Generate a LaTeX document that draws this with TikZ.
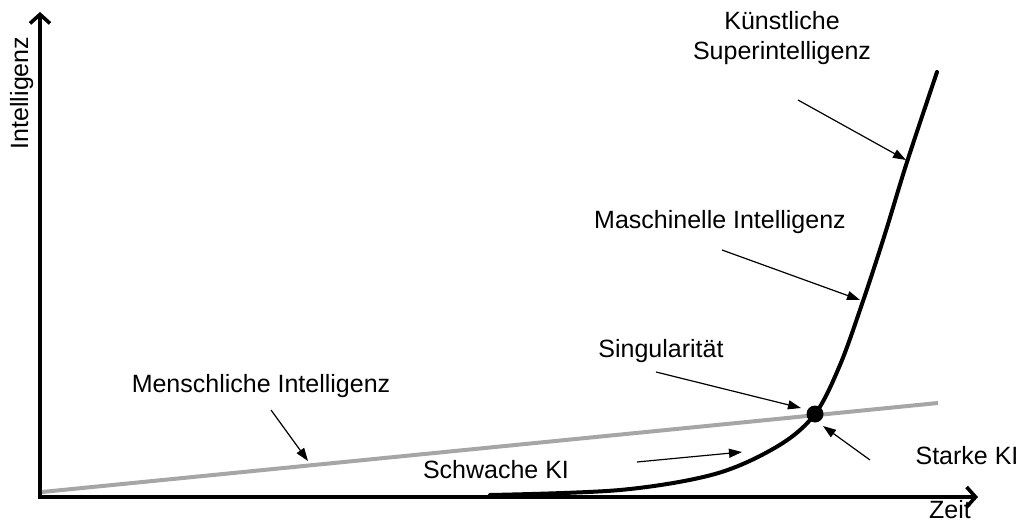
\documentclass[tikz,border=0pt]{standalone}
\usepackage{fontspec}
\setmainfont{Liberation Sans}
\usetikzlibrary{arrows.meta}
\begin{document}
\begin{tikzpicture}[x=1pt,y=-1pt,
  lbl/.style={font=\fontsize{25}{30}\selectfont, inner sep=0pt, anchor=base},
  axisline/.style={line width=3.6pt, -{Straight Barb[length=9pt,width=20pt,line width=3.6pt]}},
  pointer/.style={line width=1.2pt, -{Triangle[length=13pt,width=9pt]}},
  growth/.style={line width=4pt, line cap=round},
  human/.style={line width=4pt, color=humangray}]
\definecolor{humangray}{RGB}{166,166,166}
\useasboundingbox (0,0) rectangle (1026,524);

% axes
\coordinate (origin) at (40,497);
\coordinate (ytip) at (40,12);
\coordinate (xtip) at (978,497);
\draw[axisline] (origin) ++(0,1.8) -- (ytip);
\draw[axisline] (origin) ++(-1.8,0) -- (xtip);
\node[lbl, rotate=90] (ylabel) at (28,93) {Intelligenz};
\node[lbl] (xlabel) at (950,518) {Zeit};

% human intelligence (linear)
\coordinate (h0) at (42,492);
\coordinate (h1) at (938,403);
\draw[human] (h0) -- (h1);

% machine intelligence (exponential)
\draw[growth] plot[smooth, tension=0.55] coordinates
  {(490,495) (620,490) (715,474) (778,446) (815,414) (840,365) (862,304) (884,237) (907,162) (937,72)};

% singularity point
\node[circle, fill=black, minimum size=17pt, inner sep=0pt] (sing) at (815,414) {};

% labels
\node[lbl] (ksi1) at (782,30) {Künstliche};
\node[lbl] (ksi2) at (782,60) {Superintelligenz};
\node[lbl] (mi) at (720,228) {Maschinelle Intelligenz};
\node[lbl] (sg) at (661,357) {Singularität};
\node[lbl] (mensch) at (261,392) {Menschliche Intelligenz};
\node[lbl] (schwach) at (496,478) {Schwache KI};
\node[lbl] (stark) at (967,464) {Starke KI};

% pointer ends
\coordinate (ksiA) at (798,100);
\coordinate (ksiB) at (906,160);
\coordinate (miA) at (722,250);
\coordinate (miB) at (860,300);
\coordinate (sgA) at (656,372);
\coordinate (sgB) at (801,408);
\coordinate (stA) at (870,460);
\coordinate (stB) at (823,426);
\coordinate (swA) at (637,462);
\coordinate (swB) at (742,452);
\coordinate (meA) at (271,410);
\coordinate (meB) at (308,461);

\draw[pointer] (ksiA) -- (ksiB);
\draw[pointer] (miA) -- (miB);
\draw[pointer] (sgA) -- (sgB);
\draw[pointer] (stA) -- (stB);
\draw[pointer] (swA) -- (swB);
\draw[pointer] (meA) -- (meB);
\end{tikzpicture}
\end{document}
